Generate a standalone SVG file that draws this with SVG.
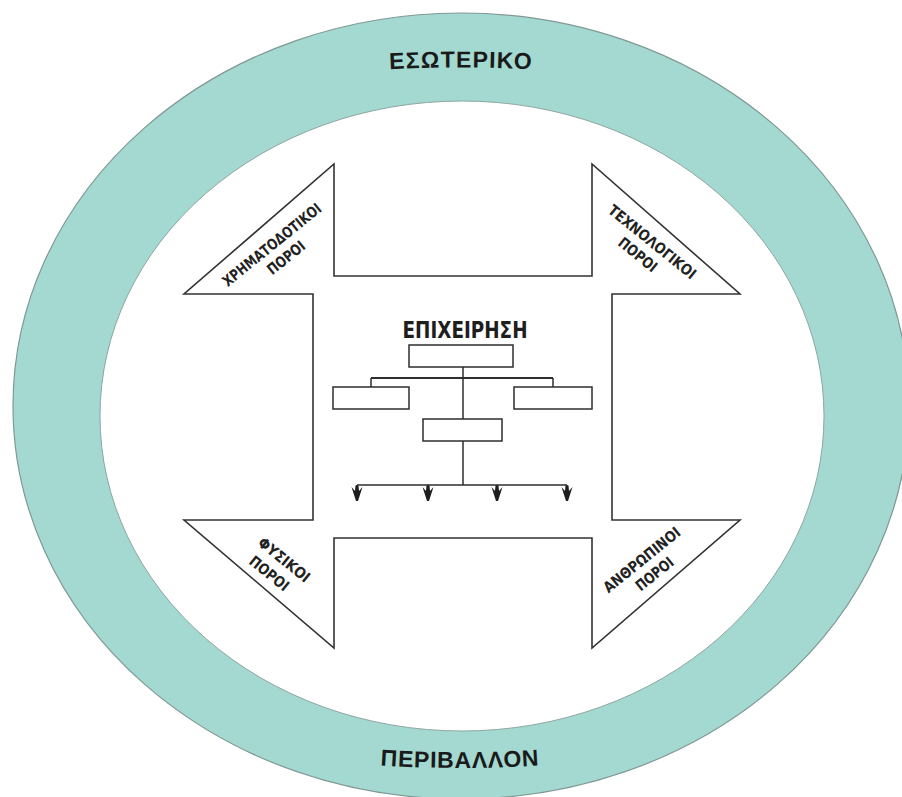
<svg xmlns="http://www.w3.org/2000/svg" width="902" height="797" viewBox="0 0 902 797">
  <style>
    .ring { fill: #a3d9d0; stroke: #7f9894; stroke-width: 1.2; }
    .inner { fill: #ffffff; stroke: #8fa5a1; stroke-width: 1; }
    .shape { fill: #ffffff; stroke: #333333; stroke-width: 1.6; stroke-linejoin: miter; }
    .box { fill: #ffffff; stroke: #2e2e2e; stroke-width: 1.5; }
    .line { fill: none; stroke: #2e2e2e; stroke-width: 1.5; }
    .thick { stroke-width: 2.2; }
    .head { fill: #1e1e1e; }
    .lbl { font-family: "Liberation Sans Narrow", "DejaVu Sans Condensed", "Roboto Condensed", "Liberation Sans", sans-serif; font-weight: bold; font-size: 15px; fill: #222222; text-anchor: middle; }
    .title { font-family: "Liberation Sans Narrow", "DejaVu Sans Condensed", "Liberation Sans", sans-serif; font-weight: bold; font-size: 23px; fill: #1e1e1e; text-anchor: middle; }
    .band { font-family: "Liberation Sans", "DejaVu Sans", sans-serif; font-weight: bold; font-size: 23px; fill: #1a1a1a; text-anchor: middle; }
  </style>
  <defs>
    <path id="topArc" d="M 350 72 Q 461 63 572 72"/>
    <path id="botArc" d="M 340 762 Q 459 774 580 762"/>
  </defs>

  <g id="environment">
    <ellipse class="ring" cx="461" cy="406" rx="448" ry="393"/>
    <ellipse class="inner" cx="462" cy="416" rx="362" ry="315"/>
    <text class="band" letter-spacing="1.2"><textPath href="#topArc" startOffset="50%">ΕΣΩΤΕΡΙΚΟ</textPath></text>
    <text class="band" letter-spacing="0.8"><textPath href="#botArc" startOffset="50%">ΠΕΡΙΒΑΛΛΟΝ</textPath></text>
  </g>

  <g id="resources">
    <path class="shape" d="M 334 164 L 334 276 L 592 276 L 592 164 L 740 294 L 612 294 L 612 520 L 740 520 L 592 648 L 592 538 L 334 538 L 334 648 L 184 520 L 313 520 L 313 294 L 184 294 Z"/>
  </g>

  <g id="label-financial" transform="translate(272,245) rotate(-39)">
    <text class="lbl" x="0" y="5" textLength="122" lengthAdjust="spacingAndGlyphs">ΧΡΗΜΑΤΟΔΟΤΙΚΟΙ</text>
    <text class="lbl" x="3" y="24" textLength="44" lengthAdjust="spacingAndGlyphs">ΠΟΡΟΙ</text>
  </g>
  <g id="label-technological" transform="translate(652,242) rotate(39)">
    <text class="lbl" x="0" y="5" textLength="108" lengthAdjust="spacingAndGlyphs">ΤΕΧΝΟΛΟΓΙΚΟΙ</text>
    <text class="lbl" x="-3" y="24" textLength="45" lengthAdjust="spacingAndGlyphs">ΠΟΡΟΙ</text>
  </g>
  <g id="label-physical" transform="translate(284,560) rotate(39)">
    <text class="lbl" x="0" y="5" textLength="62" lengthAdjust="spacingAndGlyphs">ΦΥΣΙΚΟΙ</text>
    <text class="lbl" x="-3" y="25" textLength="46" lengthAdjust="spacingAndGlyphs">ΠΟΡΟΙ</text>
  </g>
  <g id="label-human" transform="translate(642,560) rotate(-39)">
    <text class="lbl" x="0" y="5" textLength="94" lengthAdjust="spacingAndGlyphs">ΑΝΘΡΩΠΙΝΟΙ</text>
    <text class="lbl" x="1" y="24" textLength="44" lengthAdjust="spacingAndGlyphs">ΠΟΡΟΙ</text>
  </g>

  <g id="company">
    <text class="title" x="465" y="338" textLength="125" lengthAdjust="spacingAndGlyphs">ΕΠΙΧΕΙΡΗΣΗ</text>
  </g>
  <g id="box-top"><rect class="box" x="409" y="345" width="104" height="22"/></g>
  <g id="box-left"><rect class="box" x="333" y="387" width="76" height="22"/></g>
  <g id="box-right"><rect class="box" x="514" y="387" width="78" height="22"/></g>
  <g id="box-middle"><rect class="box" x="423" y="419" width="79" height="22"/></g>

  <g id="connectors">
    <path class="line" d="M 463 367 L 463 419"/>
    <path class="line thick" d="M 371 378 L 553 378"/>
    <path class="line" d="M 371 378 L 371 387 M 553 378 L 553 387"/>
    <path class="line" d="M 463 441 L 463 485"/>
    <path class="line" d="M 357 485 L 567 485"/>
    <path class="line" d="M 357 485 L 357 490 M 428 485 L 428 490 M 497 485 L 497 490 M 567 485 L 567 490"/>
    <polygon class="head" points="351.5,487 355,491 355.5,485.5 358.5,485.5 359,491 362.5,487 358,501 356,501"/>
    <polygon class="head" points="422.5,487 426,491 426.5,485.5 429.5,485.5 430,491 433.5,487 429,501 427,501"/>
    <polygon class="head" points="491.5,487 495,491 495.5,485.5 498.5,485.5 499,491 502.5,487 498,501 496,501"/>
    <polygon class="head" points="561.5,487 565,491 565.5,485.5 568.5,485.5 569,491 572.5,487 568,501 566,501"/>
  </g>
</svg>
